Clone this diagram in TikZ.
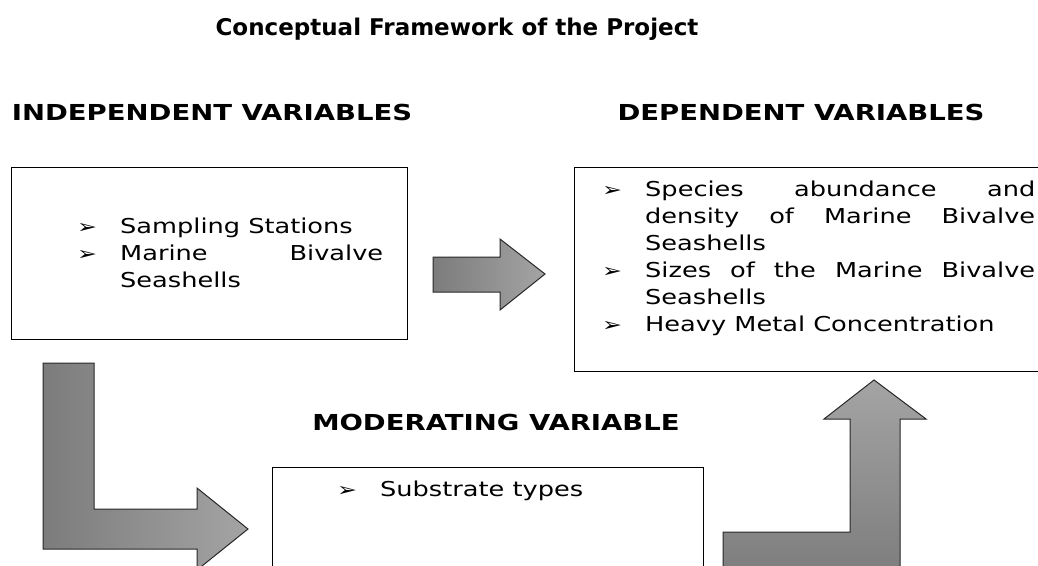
\documentclass[tikz,border=0pt]{standalone}
\usepackage{fontspec}
\setmainfont{DejaVu Sans}[FakeStretch=1.25]
\newfontfamily\titlefont{DejaVu Sans}[FakeStretch=1.0]
\usetikzlibrary{positioning}

\definecolor{arrowdark}{RGB}{124,124,124}
\definecolor{arrowlight}{RGB}{164,164,164}
\definecolor{rimgray}{RGB}{40,40,40}

% bullet with hanging indent
\newcommand{\bitem}[1]{\hangindent=43pt\hangafter=1\noindent\makebox[43pt][l]{\fontsize{19}{19}\selectfont ➢}#1\par}

\begin{document}
\begin{tikzpicture}[x=1pt, y=-1pt,
  box/.style={draw=black, line width=1.2pt, anchor=north west},
  heading/.style={font=\bfseries\fontsize{22}{26}\selectfont},
  items/.style={align=justify, inner sep=0pt, anchor=north west, font=\fontsize{20.5}{27}\selectfont},
  blockarrow/.style={draw=rimgray, line width=1pt, line join=miter}]
	\useasboundingbox (0,0) rectangle (1038,565);

	\node [heading, font=\titlefont\bfseries\fontsize{23}{27}\selectfont] (title) at (457,29) {Conceptual Framework of the Project};
	\node [heading] (indephead) at (212,112) {INDEPENDENT VARIABLES};
	\node [heading] (dephead) at (801,112) {DEPENDENT VARIABLES};
	\node [heading] (modhead) at (496,422) {MODERATING VARIABLE};

	\node [box, minimum width=396, minimum height=172] (indep) at (11,167) {};
	\node [box, minimum width=480, minimum height=204] (dep) at (574,167) {};
	\node [box, minimum width=431, minimum height=130] (mod) at (272,467) {};

	\node [items, text width=306] (indeplist) at (77,218)
		{\bitem{Sampling Stations}\bitem{Marine Bivalve Seashells}};
	\node [items, text width=433] (deplist) at (602,181)
		{\bitem{Species abundance and density of Marine Bivalve Seashells}\bitem{Sizes of the Marine Bivalve Seashells}\bitem{Heavy Metal Concentration}};
	\node [items, text width=380] (modlist) at (337,481)
		{\bitem{Substrate types}};

	% block arrows
	\path [blockarrow, left color=arrowdark, right color=arrowlight]
		(433,257) -- (500,257) -- (500,239) -- (545,274) -- (500,310) -- (500,292) -- (433,292) -- cycle;
	\path [blockarrow, left color=arrowdark, right color=arrowlight]
		(43,363) -- (94,363) -- (94,509) -- (197,509) -- (197,488) -- (248,529) -- (197,570) -- (197,549) -- (43,549) -- cycle;
	\path [blockarrow, top color=arrowlight, bottom color=arrowdark]
		(723,532) -- (850,532) -- (850,419) -- (824,419) -- (874,380) -- (926,419) -- (900,419) -- (900,580) -- (723,580) -- cycle;
\end{tikzpicture}
\end{document}
